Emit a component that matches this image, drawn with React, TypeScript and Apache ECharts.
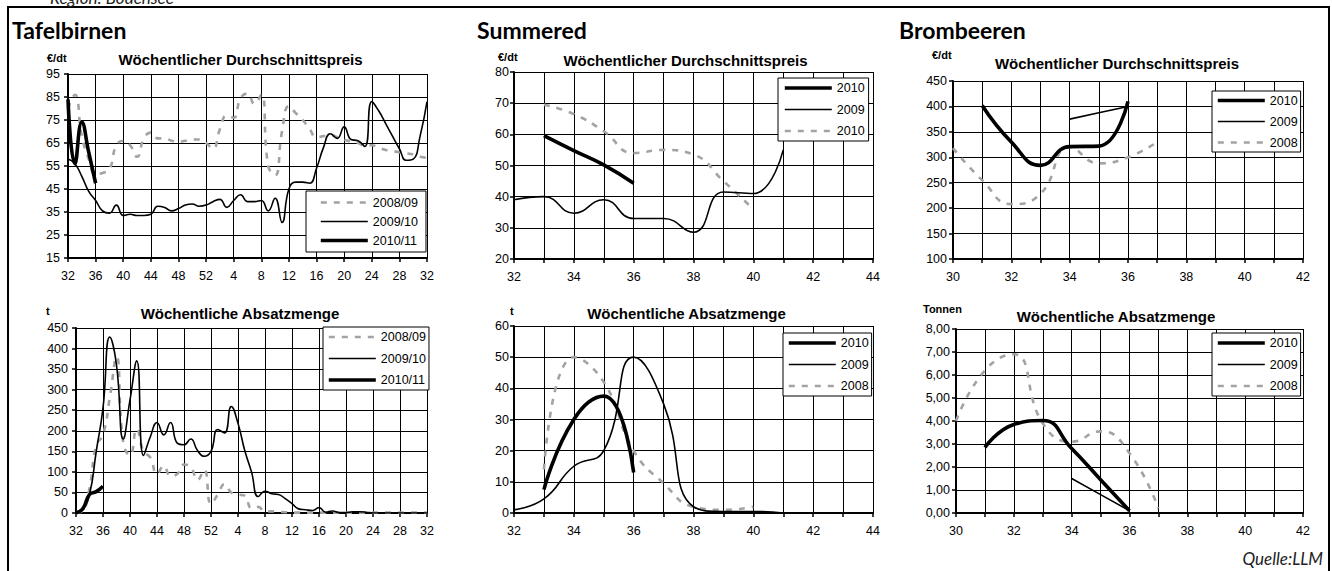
import React, { useEffect, useRef } from 'react';
import * as echarts from 'echarts';

const FONT = '"Liberation Sans", Arial, Helvetica, sans-serif';
const HEAD = 'Lato, "Open Sans", sans-serif';

// ---------- Tafelbirnen (season week axis 32 .. 52, 1 .. 32)
const tbWeeks = [32, 33, 34, 35, 36, 37, 38, 39, 40, 41, 42, 43, 44, 45, 46, 47, 48, 49, 50, 51, 52,
  1, 2, 3, 4, 5, 6, 7, 8, 9, 10, 11, 12, 13, 14, 15, 16, 17, 18, 19, 20, 21, 22, 23, 24, 25, 26, 27, 28, 29, 30, 31, 32];

const tbPrice0809 = [80, 86, 68, 58, 51.5, 52, 53.5, 64, 66, 64, 59, 67, 69.5, 67, 67, 66, 65.5, 66, 66.5, 66.5, 65,
  62.5, 71, 77, 76, 84.5, 86.5, 82, 86, 55, 51, 70, 81, 78, 75, 71, 67.5, 68, 68.5, 67.5, 66.5, 65.5, 65, 64, 64, 63, 62, 61.5, 61, 60.5, 60, 59, 58.5];
const tbPrice0910 = [58, 56, 50.5, 44, 40, 35.5, 34.5, 38, 33.5, 34, 33.5, 33.5, 34, 37.5, 37, 35.5, 36.5, 38, 38.5, 37.5, 38,
  39.5, 40.5, 37, 40, 42.5, 39.5, 39.5, 40, 35.5, 41, 30.5, 45, 48, 48, 47.5, 54, 63, 69, 67, 72, 66.5, 66, 63.5, 83, 79, 73.5, 68, 62.5, 57.5, 58, 68, 83];
const tbPrice1011 = [84, 56, 74, 61, 47.5];

const tbVol0809 = [0, 5, 60, 165, 190, 280, 380, 170, 140, 205, 150, 135, 95, 115, 90, 95, 118, 112, 80, 105, 22,
  45, 70, 50, 45, 42, 12, 15, 3, 4, 3, 2, 1, 1, 1, 1, 1, 1, 1, 1, 1, 1, 1, 1, 1, 1, 1, 1, 1, 1, 1, 1, 1];
const tbVol0910 = [2, 12, 45, 150, 255, 428, 360, 180, 275, 370, 140, 185, 220, 190, 220, 170, 166, 180, 152, 138, 150,
  203, 195, 259, 218, 152, 100, 40, 53, 47, 45, 35, 23, 10, 8, 6, 13, 2, 5, 1, 1, 3, 3, 2, 0, 0, 0, 0, 0, 0, 0, 0, 0];
const tbVol1011 = [0, 10, 45, 52, 65];

const tbPriceTicks = [15, 25, 35, 45, 55, 65, 75, 85, 95];
const tbVolTicks = [0, 50, 100, 150, 200, 250, 300, 350, 400, 450];

// ---------- Summered
const smPrice2010Weeks = [33, 34, 35, 36];
const smPrice2010 = [59.6, 54.8, 50.2, 44.3];
const smPrice2009Weeks = [32, 33, 34, 35, 36, 37, 38, 39, 40, 41];
const smPrice2009 = [39, 40, 34.7, 39, 33, 33, 28.6, 41.5, 41, 55];
const smPriceGreyWeeks = [33, 34, 35, 36, 37, 38, 39, 40];
const smPriceGrey = [69.5, 66.5, 61, 54, 55, 53.5, 45, 36];

const smVol2010Weeks = [33, 34, 35, 36];
const smVol2010 = [7.5, 30, 37.5, 13];
const smVol2009Weeks = [32, 33, 34, 35, 36, 37, 38, 39, 40, 41];
const smVol2009 = [1, 4.5, 15, 20, 50, 35, 2, 0.5, 0.5, 0];
const smVol2008Weeks = [33, 34, 35, 36, 37, 38, 39, 40];
const smVol2008 = [14, 50, 42, 20, 9.5, 2, 1, 2];

// ---------- Brombeeren
const bbPrice2010Weeks = [31, 32, 33, 34, 35, 36];
const bbPrice2010 = [402, 330, 284, 321, 322, 410];
const bbPrice2009Weeks = [34, 35, 36];
const bbPrice2009 = [375, 387.5, 400];
const bbPrice2008Weeks = [30, 31, 32, 33, 34, 35, 36, 37];
const bbPrice2008 = [318, 255, 208, 228, 320, 288, 300, 330];

const bbVol2010Weeks = [31, 32, 33, 34, 35, 36];
const bbVol2010 = [2.85, 3.85, 4.02, 2.8, 1.45, 0.1];
const bbVol2009Weeks = [34, 35, 36];
const bbVol2009 = [1.5, 0.8, 0.1];
const bbVol2008Weeks = [30, 31, 32, 33, 34, 35, 36, 37];
const bbVol2008 = [4.0, 6.2, 6.9, 3.9, 3.1, 3.55, 2.6, 0.2];

// ---------- styles
const THIN = { color: '#000', width: 1.6 };
const THICK = { color: '#000', width: 3.6 };
const GREY = { color: '#a3a3a3', width: 2.6, type: [6, 7] };

const pairs = (xs: number[], ys: number[]) => ys.map((v, i) => [xs[i], v]);
const indexed = (ys: number[]) => ys.map((v, i) => [i, v]);

function line(name: string, idx: number, data: number[][], ls: any, z: number) {
  return {
    type: 'line', name, xAxisIndex: idx, yAxisIndex: idx, data,
    smooth: 0.5, symbol: 'none', showSymbol: false, silent: true,
    lineStyle: { ...ls, cap: 'butt', join: 'round' }, z,
  };
}

function xAxis(idx: number, min: number, max: number, interval: number, fmt: (v: number) => string) {
  return {
    type: 'value', gridIndex: idx, min, max, interval,
    axisLine: { show: true, onZero: false, lineStyle: { color: '#000', width: 2 } },
    axisTick: { show: true, length: 4, lineStyle: { color: '#000', width: 1.5 } },
    splitLine: { show: true, lineStyle: { color: '#000', width: 1 } },
    axisLabel: { margin: 11, color: '#000', fontSize: 12.5, fontFamily: FONT, formatter: fmt },
  };
}

function yAxis(idx: number, min: number, max: number, interval: number, margin: number, fmt?: (v: number) => string) {
  return {
    type: 'value', gridIndex: idx, min, max, interval,
    axisLine: { show: true, onZero: false, lineStyle: { color: '#000', width: 2 } },
    axisTick: { show: true, length: 4, lineStyle: { color: '#000', width: 1.5 } },
    splitLine: { show: true, lineStyle: { color: '#000', width: 1 } },
    axisLabel: { margin, color: '#000', fontSize: 12.5, fontFamily: FONT, formatter: fmt },
  };
}

function legend(left: number, top: number, names: string[], styles: any[], padding: number[], gap: number) {
  return {
    left, top, orient: 'vertical', padding, itemGap: gap, itemWidth: 47, itemHeight: 14,
    backgroundColor: '#fff', borderColor: '#000', borderWidth: 1, borderRadius: 0,
    selectedMode: false,
    formatter: (n: string) => n.replace('#', ''),
    textStyle: { color: '#000', fontSize: 12.5, fontFamily: FONT },
    data: names.map((n, i) => ({ name: n, itemStyle: { opacity: 0 }, lineStyle: styles[i] })),
  };
}

function txt(x: number, y: number, text: string, font: string, align = 'left', vAlign = 'middle', fill = '#000') {
  return { type: 'text', x, y, silent: true, style: { text, font, fill, textAlign: align, textVerticalAlign: vAlign } };
}

const evenOnly = (v: number) => (v % 2 === 0 ? String(v) : '');

export default function App() {
  const ref = useRef<HTMLDivElement>(null);
  useEffect(() => {
    if (!ref.current) return;
    const chart = echarts.init(ref.current, undefined, { renderer: 'svg' });
    const option: any = {
      animation: false,
      grid: [
        { left: 68, top: 74, width: 359, height: 184 },
        { left: 76, top: 328, width: 351, height: 185 },
        { left: 514, top: 72, width: 359, height: 187 },
        { left: 514, top: 326, width: 359, height: 187 },
        { left: 953, top: 81, width: 350, height: 178 },
        { left: 956, top: 329, width: 347, height: 184 },
      ],
      xAxis: [
        xAxis(0, 0, tbWeeks.length - 1, 4, (v) => String(tbWeeks[v])),
        xAxis(1, 0, tbWeeks.length - 1, 4, (v) => String(tbWeeks[v])),
        xAxis(2, 32, 44, 1, evenOnly),
        xAxis(3, 32, 44, 1, evenOnly),
        xAxis(4, 30, 42, 1, evenOnly),
        xAxis(5, 30, 42, 1, evenOnly),
      ],
      yAxis: [
        yAxis(0, tbPriceTicks[0], tbPriceTicks[tbPriceTicks.length - 1], 10, 8),
        yAxis(1, tbVolTicks[0], tbVolTicks[tbVolTicks.length - 1], 50, 8),
        yAxis(2, 20, 80, 10, 5),
        yAxis(3, 0, 60, 10, 5),
        yAxis(4, 100, 450, 50, 6),
        yAxis(5, 0, 8, 1, 6, (v) => v.toFixed(2).replace('.', ',')),
      ],
      legend: [
        legend(306, 191, ['2008/09', '2009/10', '2010/11'], [GREY, THIN, THICK], [5, 8, 5, 13], 6),
        legend(323, 327, ['2008/09', '2009/10', '2010/11'], [GREY, THIN, THICK], [3.5, 3, 3.5, 4], 8.5),
        legend(778, 78, ['2010', '2009', '2010#'], [THICK, THIN, GREY], [3.5, 4, 3.5, 5], 8.5),
        legend(783, 333, ['2010', '2009', '2008'], [THICK, THIN, GREY], [3.5, 3, 3.5, 4], 8.5),
        legend(1212, 91, ['2010', '2009', '2008'], [THICK, THIN, GREY], [3, 3, 3, 4], 8),
        legend(1212, 333, ['2010', '2009', '2008'], [THICK, THIN, GREY], [3.5, 3, 3.5, 4], 8.5),
      ],
      series: [
        line('2008/09', 0, indexed(tbPrice0809), GREY, 3),
        line('2009/10', 0, indexed(tbPrice0910), THIN, 4),
        line('2010/11', 0, indexed(tbPrice1011), THICK, 5),
        line('2008/09', 1, indexed(tbVol0809), GREY, 3),
        line('2009/10', 1, indexed(tbVol0910), THIN, 4),
        line('2010/11', 1, indexed(tbVol1011), THICK, 5),
        line('2010#', 2, pairs(smPriceGreyWeeks, smPriceGrey), GREY, 3),
        line('2009', 2, pairs(smPrice2009Weeks, smPrice2009), THIN, 4),
        line('2010', 2, pairs(smPrice2010Weeks, smPrice2010), THICK, 5),
        line('2008', 3, pairs(smVol2008Weeks, smVol2008), GREY, 3),
        line('2009', 3, pairs(smVol2009Weeks, smVol2009), THIN, 4),
        line('2010', 3, pairs(smVol2010Weeks, smVol2010), THICK, 5),
        line('2008', 4, pairs(bbPrice2008Weeks, bbPrice2008), GREY, 3),
        line('2009', 4, pairs(bbPrice2009Weeks, bbPrice2009), THIN, 4),
        line('2010', 4, pairs(bbPrice2010Weeks, bbPrice2010), THICK, 5),
        line('2008', 5, pairs(bbVol2008Weeks, bbVol2008), GREY, 3),
        line('2009', 5, pairs(bbVol2009Weeks, bbVol2009), THIN, 4),
        line('2010', 5, pairs(bbVol2010Weeks, bbVol2010), THICK, 5),
      ],
      graphic: [
        { type: 'polyline', silent: true, shape: { points: [[8, 571], [8, 7], [1329, 7], [1329, 571]] },
          style: { stroke: '#000', lineWidth: 2, fill: null } },
        txt(50, 6, 'Region: Bodensee', `italic 17px ${HEAD}`, 'left', 'bottom', '#222'),
        txt(12, 29.5, 'Tafelbirnen', `bold 23px ${HEAD}`),
        txt(477, 29.5, 'Summered', `bold 23px ${HEAD}`),
        txt(899, 29.5, 'Brombeeren', `bold 23px ${HEAD}`),
        txt(47, 58, '€/dt', `bold 11px ${FONT}`),
        txt(240.5, 59, 'Wöchentlicher Durchschnittspreis', `bold 15px ${FONT}`, 'center'),
        txt(46, 310.5, 't', `bold 11px ${FONT}`),
        txt(240, 313, 'Wöchentliche Absatzmenge', `bold 15px ${FONT}`, 'center'),
        txt(498, 57, '€/dt', `bold 11px ${FONT}`),
        txt(685.5, 60, 'Wöchentlicher Durchschnittspreis', `bold 15px ${FONT}`, 'center'),
        txt(510, 311, 't', `bold 11px ${FONT}`),
        txt(686.5, 313, 'Wöchentliche Absatzmenge', `bold 15px ${FONT}`, 'center'),
        txt(932, 55, '€/dt', `bold 11px ${FONT}`),
        txt(1117, 63, 'Wöchentlicher Durchschnittspreis', `bold 15px ${FONT}`, 'center'),
        txt(923, 309, 'Tonnen', `bold 11px ${FONT}`),
        txt(1116, 316.5, 'Wöchentliche Absatzmenge', `bold 15px ${FONT}`, 'center'),
        txt(1323, 558, 'Quelle:LLM', `italic 17px ${HEAD}`, 'right', 'middle', '#222'),
      ],
    };
    chart.setOption(option);
    return () => chart.dispose();
  }, []);
  return (
    <div
      ref={ref}
      style={{ position: 'fixed', left: 0, top: 0, width: 1332, height: 571, background: '#fff' }}
    />
  );
}
